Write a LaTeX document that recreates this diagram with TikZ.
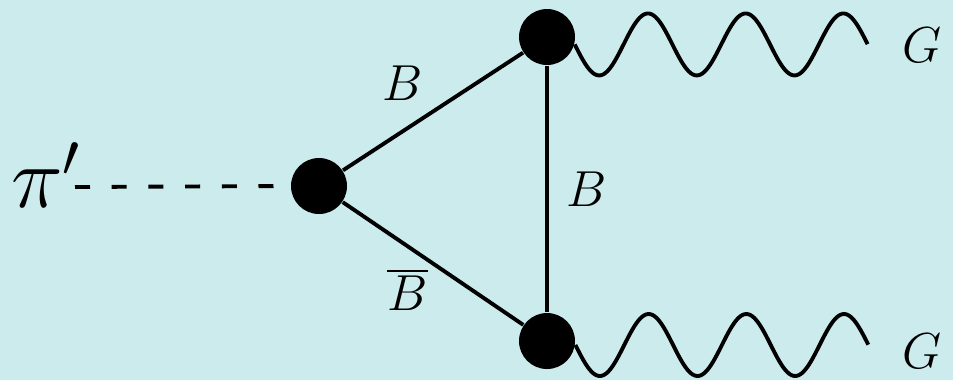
\documentclass[tikz,border=0pt]{standalone}
\usetikzlibrary{positioning, calc}
\definecolor{bgcyan}{RGB}{204,235,237}

\begin{document}
\begin{tikzpicture}[
    font=\fontsize{15}{18}\selectfont,
    vertex/.style={circle, fill=black, inner sep=0pt, minimum size=0.56cm},
    fermion/.style={line width=1.1pt},
    scalar/.style={line width=1.1pt, dash pattern=on 0.15cm off 0.217cm},
    gluon/.style={line width=1.1pt, line join=round},
  ]
    % background
    \fill[bgcyan] (0,0) rectangle (9.53,3.80);
    \useasboundingbox (0,0) rectangle (9.53,3.80);

    \node[vertex] (vl) at (3.19,1.94) {};
    \node[vertex] (vt) at (5.47,3.43) {};
    \node[vertex] (vb) at (5.47,0.39) {};

    \node[font=\fontsize{24}{28}\selectfont, anchor=east, inner sep=0pt] (pion) at (0.82,2.05) {$\pi'$};
    \node[anchor=west, inner sep=0pt] (gtop) at (9.02,3.35) {$G$};
    \node[anchor=west, inner sep=0pt] (gbot) at (9.02,0.29) {$G$};

    \draw[scalar] (0.75,1.93) -- (vl.west);
    \draw[fermion] (vl) -- node[above left, inner sep=2.5pt] {$B$} (vt);
    \draw[fermion] (vl) -- node[below left, inner sep=1pt] {$\overline{B}$} (vb);
    \draw[fermion] (vt) -- node[right, inner sep=5pt] {$B$} (vb);
    % gluon lines, three periods each
    \draw[gluon, shift={(vt.-15)}] plot[domain=0:2.93, samples=150, smooth]
      (\x,{-0.31*sin(\x/2.93*1080)});
    \draw[gluon, shift={(vb.-8)}] plot[domain=0:2.93, samples=150, smooth]
      (\x,{-0.31*sin(\x/2.93*1080)});
  \end{tikzpicture}
\end{document}
